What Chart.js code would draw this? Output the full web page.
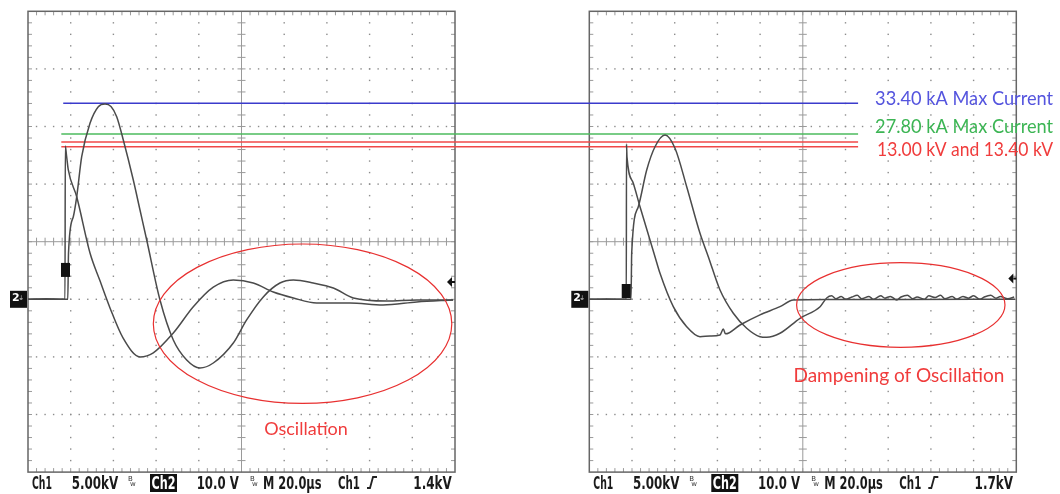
<!DOCTYPE html>
<html lang="en">
<head>
<meta charset="UTF-8" />
<title>Surge waveforms</title>
<script src="https://cdn.jsdelivr.net/npm/chart.js@4.4.0/dist/chart.umd.min.js"></script>
<style>
  body { margin: 0; background: #fff; }
  .wrap { position: relative; width: 1060px; height: 494px; }
</style>
</head>
<body>
<div class="wrap"><canvas id="scope"></canvas></div>
<script>
// time in µs (20 µs/div), amplitude in screen divisions (0 = centre line, ground = -1)
const leftVoltT = [0, 8.4, 17.33, 17.47, 18.03, 18.88, 22.81, 29.04, 33.72, 38.41, 44.5, 52.46, 58.69, 68.06, 77.42, 86.79, 96.16, 105.5, 114.9, 124.3, 135.2, 150.8, 166.3, 182.1, 199.1];
const leftVoltY = [-1.0, -0.99, -1.0, 1.66, 1.5, 1.245, 0.78, -0.196, -0.68, -1.15, -1.67, -2.0, -1.93, -1.585, -1.13, -0.79, -0.665, -0.717, -0.873, -0.977, -1.064, -1.064, -1.099, -1.047, -1.012];

const leftCurrT = [0, 8.4, 18.64, 18.97, 21.22, 22.81, 25.15, 29.04, 32.93, 36.07, 38.88, 41.55, 44.64, 49.32, 52.46, 55.6, 61.83, 68.06, 74.33, 80.56, 86.79, 96.16, 102.4, 110.2, 118.0, 124.3, 133.6, 143.0, 152.4, 168.0, 182.1, 199.1];
const leftCurrY = [-1.0, -1.0, -1.0, -0.196, 0.434, 0.78, 1.476, 2.056, 2.344, 2.391, 2.347, 2.17, 1.766, 1.071, 0.55, 0.03, -1.012, -1.707, -2.054, -2.193, -2.106, -1.759, -1.358, -0.958, -0.717, -0.665, -0.717, -0.804, -0.977, -1.03, -1.012, -1.012];

const rightVoltT = [0, 8.3, 17.33, 17.42, 17.66, 20.61, 23.75, 30.77, 33.12, 39.34, 45.62, 51.85, 56.53, 61.22, 62.76, 63.79, 70.59, 79.95, 89.32, 95.55, 111.2, 145.5, 199.4];
const rightVoltY = [-1.0, -0.995, -1.0, 1.696, 1.47, 1.014, 0.608, -0.26, -0.549, -1.128, -1.476, -1.649, -1.637, -1.62, -1.516, -1.6, -1.446, -1.27, -1.128, -1.012, -1.003, -1.003, -1.0];

const rightCurrT = [0, 8.3, 19.53, 19.86, 22.95, 26.89, 30.77, 35.46, 40.14, 45.62, 51.85, 55.74, 61.22, 67.45, 73.72, 79.95, 83.09, 89.32, 98.69, 108.1, 111.2,
  113.5, 115.5, 118, 120, 123, 125.5, 127.5, 131, 133, 136.5, 138.5, 141, 144, 146, 149, 151.5, 153.5, 157, 159, 162, 164.5, 166.5, 170, 172,
  175, 177.5, 180, 183, 185, 188, 190.5, 192.5, 196, 199];
const rightCurrY = [-1.0, -1.0, -1.0, -0.196, 0.608, 1.245, 1.649, 1.852, 1.622, 0.955, 0.146, -0.26, -0.839, -1.243, -1.503, -1.649, -1.66, -1.59, -1.33, -1.128, -0.977,
  -0.94, -0.99, -0.95, -1.0, -0.96, -0.93, -0.99, -0.95, -1.0, -0.94, -0.98, -0.95, -1.01, -0.96, -0.93, -0.99, -0.96, -1.0, -0.94, -0.97, -0.93, -0.99, -0.95, -1.0,
  -0.95, -0.98, -0.94, -1.0, -0.96, -0.93, -0.98, -0.95, -0.99, -0.96];

// marked levels (divisions), drawn across both screens
const refLabels = ['33.40 kA Max Current', '27.80 kA Max Current', '13.00 kV and 13.40 kV'];
const refLevels = [2.403, 1.87, 1.731, 1.649];
const refStartT = [16.5, 15.6, 15.6, 15.6];
const refEndT = 388.8;

const statusLeft = ['Ch1', '5.00kV', '10.0 V', 'M 20.0µs', 'Ch1', '1.4kV'];
const statusRight = ['Ch1', '5.00kV', '10.0 V', 'M 20.0µs', 'Ch1', '1.7kV'];

const PX_US = 2.135;   // pixels per µs
const PX_DIV = 57.6;   // pixels per division
const W = 1060, H = 494, MID_Y = 241.7;
const LEFT_X0 = 28, RIGHT_X0 = 589.3;

const pts = (t, y) => t.map((x, i) => ({ x: x, y: y[i] }));
const trace = (t, y, axis) => ({
  data: pts(t, y), xAxisID: axis, borderColor: '#4b4b4b', borderWidth: 1.5,
  pointRadius: 0, showLine: true, cubicInterpolationMode: 'monotone'
});
const refColors = ['#3b3bcc', '#4dbb5e', '#f04848', '#f04848'];
const refSets = refLevels.map((lv, i) => ({
  data: [{ x: refStartT[i], y: lv }, { x: refEndT, y: lv }], xAxisID: 'xl',
  borderColor: refColors[i], borderWidth: 1.6, pointRadius: 0, showLine: true
}));

function drawScreen(ctx, xs, ys) {
  const X = v => xs.getPixelForValue(v), Y = v => ys.getPixelForValue(v);
  const x0 = X(0), x1 = X(200), y0 = Y(4), y1 = Y(-4), xc = X(100), yc = Y(0);
  ctx.save();
  ctx.fillStyle = '#8c8c8c';
  for (let i = 1; i < 10; i++) {
    if (i === 5) continue;
    const x = X(i * 20);
    for (let j = 1; j < 40; j++) ctx.fillRect(x - 0.7, Y(4 - j * 0.2) - 0.7, 1.4, 1.4);
  }
  for (let j = 1; j < 8; j++) {
    if (j === 4) continue;
    const y = Y(4 - j);
    for (let i = 1; i < 50; i++) ctx.fillRect(X(i * 4) - 0.7, y - 0.7, 1.4, 1.4);
  }
  ctx.strokeStyle = '#9a9a9a';
  ctx.lineWidth = 1;
  ctx.beginPath();
  ctx.moveTo(xc, y0); ctx.lineTo(xc, y1);
  ctx.moveTo(x0, yc); ctx.lineTo(x1, yc);
  for (let i = 1; i < 50; i++) {
    const x = X(i * 4);
    ctx.moveTo(x, yc - 4); ctx.lineTo(x, yc + 4);
    ctx.moveTo(x, y0); ctx.lineTo(x, y0 + 4);
    ctx.moveTo(x, y1); ctx.lineTo(x, y1 - 4);
  }
  for (let j = 1; j < 40; j++) {
    const y = Y(4 - j * 0.2);
    ctx.moveTo(xc - 4, y); ctx.lineTo(xc + 4, y);
    ctx.moveTo(x0, y); ctx.lineTo(x0 + 4, y);
    ctx.moveTo(x1, y); ctx.lineTo(x1 - 4, y);
  }
  ctx.stroke();
  ctx.strokeStyle = '#666';
  ctx.lineWidth = 1.5;
  ctx.strokeRect(x0, y0, x1 - x0, y1 - y0);
  ctx.restore();
}

function drawMarkers(ctx, xs, ys, trigT, trigY, levelY) {
  const X = v => xs.getPixelForValue(v), Y = v => ys.getPixelForValue(v);
  const x0 = X(0), x1 = X(200), g = Y(-1);
  ctx.save();
  ctx.fillStyle = '#111';
  ctx.fillRect(x0 - 18, g - 8.5, 17, 17);
  ctx.fillStyle = '#fff';
  ctx.font = 'bold 11px "DejaVu Sans"';
  ctx.textBaseline = 'middle';
  ctx.fillText('2', x0 - 16, g - 1);
  ctx.font = '6px "DejaVu Sans"';
  ctx.fillText('⏚', x0 - 9, g - 1);
  ctx.fillStyle = '#111';
  ctx.fillRect(X(trigT) - 4.5, Y(trigY) - 7, 9, 14);
  // trigger level arrow
  const ly = Y(levelY);
  ctx.beginPath();
  ctx.moveTo(x1 - 8, ly); ctx.lineTo(x1 - 3, ly - 5); ctx.lineTo(x1 - 3, ly + 5); ctx.closePath();
  ctx.fill();
  ctx.fillRect(x1 - 3, ly - 1, 3, 2);
  ctx.restore();
}

function drawStatus(ctx, x0, labels) {
  const y = 489;
  ctx.save();
  ctx.fillStyle = '#1a1a1a';
  ctx.font = 'bold 17px "Liberation Sans Narrow", "DejaVu Sans Condensed", sans-serif';
  ctx.textBaseline = 'alphabetic';
  const at = [[4, 20], [43.7, 46.5], [168.7, 42], [235, 58.5], [310, 22], [385.3, 38.5]];
  labels.forEach((s, i) => ctx.fillText(s, x0 + at[i][0], y, at[i][1]));
  ctx.fillStyle = '#111';
  ctx.fillRect(x0 + 122, 474, 27, 18);
  ctx.fillStyle = '#fff';
  ctx.fillText('Ch2', x0 + 123.5, y, 24);
  ctx.fillStyle = '#333';
  ctx.font = '7px "DejaVu Sans"';
  [100, 222].forEach(o => { ctx.fillText('B', x0 + o, 481); ctx.fillText('w', x0 + o + 2, 486); });
  ctx.strokeStyle = '#222';
  ctx.lineWidth = 1.8;
  ctx.beginPath();
  ctx.moveTo(x0 + 339, 488);
  ctx.lineTo(x0 + 342, 488);
  ctx.lineTo(x0 + 345, 477);
  ctx.lineTo(x0 + 349, 477);
  ctx.stroke();
  ctx.restore();
}

const scopePlugin = {
  id: 'scope',
  beforeDatasetsDraw(chart) {
    const { ctx, scales } = chart;
    drawScreen(ctx, scales.xl, scales.y);
    drawScreen(ctx, scales.xr, scales.y);
  },
  afterDatasetsDraw(chart) {
    const { ctx, scales } = chart;
    const xl = scales.xl, xr = scales.xr, y = scales.y;
    drawMarkers(ctx, xl, y, 17.56, -0.49, -0.7);
    drawMarkers(ctx, xr, y, 17.3, -0.856, -0.64);
    drawStatus(ctx, xl.getPixelForValue(0), statusLeft);
    drawStatus(ctx, xr.getPixelForValue(0), statusRight);

    ctx.save();
    // oscillation regions
    ctx.strokeStyle = '#e83030';
    ctx.lineWidth = 1.2;
    const ell = (xs, t, v, rt, rv) => {
      ctx.beginPath();
      ctx.ellipse(xs.getPixelForValue(t), y.getPixelForValue(v),
        rt * PX_US, rv * PX_DIV, 0, 0, Math.PI * 2);
      ctx.stroke();
    };
    ell(xl, 128.6, -1.424, 69.9, 1.384);
    ell(xr, 145.9, -1.099, 48.8, 0.734);

    ctx.textBaseline = 'middle';
    ctx.textAlign = 'center';
    ctx.fillStyle = '#f03c3c';
    ctx.font = '18px Lato, "Open Sans", sans-serif';
    ctx.fillText('Oscillation', xl.getPixelForValue(130.2), y.getPixelForValue(-3.257), 91);
    ctx.font = '19px Lato, "Open Sans", sans-serif';
    ctx.fillText('Dampening of Oscillation', xr.getPixelForValue(145.0), y.getPixelForValue(-2.33), 214);

    // level labels
    ctx.textAlign = 'left';
    ctx.font = '19px Lato, "Open Sans", sans-serif';
    const lx = xl.getPixelForValue(refEndT) + 17;
    ctx.fillStyle = '#5454de';
    ctx.fillText(refLabels[0], lx, y.getPixelForValue(refLevels[0]) - 4, 178);
    ctx.fillStyle = '#3cb554';
    ctx.fillText(refLabels[1], lx, y.getPixelForValue(refLevels[1]) - 7, 178);
    ctx.fillStyle = '#f03c3c';
    ctx.fillText(refLabels[2], lx + 2, y.getPixelForValue(refLevels[3]) + 3.5, 176);
    ctx.restore();
  }
};

new Chart(document.getElementById('scope'), {
  type: 'scatter',
  data: {
    datasets: [
      trace(leftVoltT, leftVoltY, 'xl'),
      trace(leftCurrT, leftCurrY, 'xl'),
      trace(rightVoltT, rightVoltY, 'xr'),
      trace(rightCurrT, rightCurrY, 'xr'),
      ...refSets
    ]
  },
  options: {
    responsive: true,
    maintainAspectRatio: false,
    animation: false,
    layout: { padding: 0 },
    plugins: { legend: { display: false }, tooltip: { enabled: false } },
    scales: {
      xl: { type: 'linear', display: false, min: -LEFT_X0 / PX_US, max: (W - LEFT_X0) / PX_US },
      xr: { type: 'linear', display: false, min: -RIGHT_X0 / PX_US, max: (W - RIGHT_X0) / PX_US },
      y: { type: 'linear', display: false, min: -(H - MID_Y) / PX_DIV, max: MID_Y / PX_DIV }
    }
  },
  plugins: [scopePlugin]
});
</script>
</body>
</html>
